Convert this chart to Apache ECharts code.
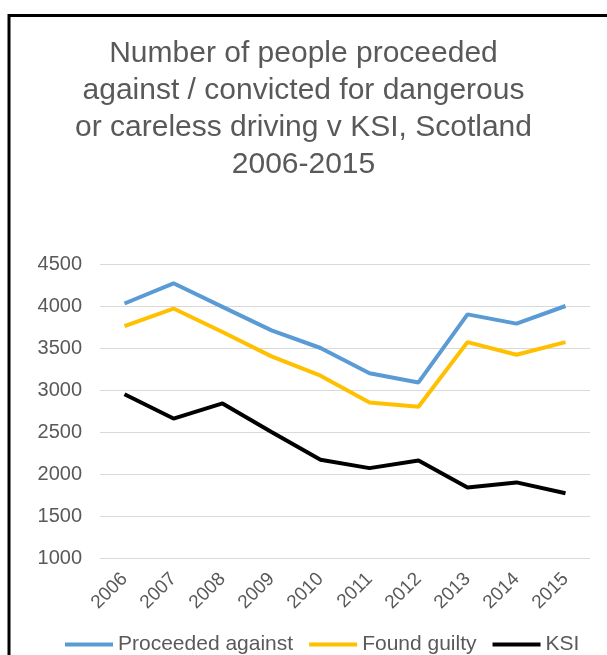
<!DOCTYPE html>
<html>
<head>
<meta charset="utf-8">
<script src="https://cdn.jsdelivr.net/npm/echarts@6/dist/echarts.min.js"></script>
<style>
html, body { margin: 0; padding: 0; background: #fff; }
#main { width: 607px; height: 655px; }
</style>
</head>
<body>
<div id="main"></div>
<script>
var years = ['2006', '2007', '2008', '2009', '2010', '2011', '2012', '2013', '2014', '2015'];
var proceeded = [4030, 4270, 3990, 3710, 3500, 3200, 3090, 3900, 3790, 4000];
var guilty = [3760, 3970, 3690, 3400, 3170, 2850, 2800, 3570, 3420, 3570];
var ksi = [2950, 2660, 2840, 2500, 2170, 2070, 2160, 1840, 1900, 1770];

var myChart = echarts.init(document.getElementById('main'));
var font = '"Liberation Sans", Arial, sans-serif';

var option = {
    animation: false,
    title: {
        text: 'Number of people proceeded\nagainst / convicted for dangerous\nor careless driving v KSI, Scotland\n2006-2015',
        left: 'center',
        top: 30,
        textStyle: {
            color: '#595959',
            fontSize: 30,
            fontWeight: 'normal',
            fontFamily: font,
            lineHeight: 37
        }
    },
    // chart border, right and bottom edges run off the picture
    graphic: [{
        type: 'rect',
        shape: { x: 9, y: 15.5, width: 700, height: 700 },
        style: { fill: 'none', stroke: '#000', lineWidth: 3 }
    }],
    legend: {
        bottom: -5,
        left: 60,
        itemWidth: 48,
        itemHeight: 4,
        itemGap: 16,
        icon: 'rect',
        textStyle: { color: '#595959', fontSize: 21, fontFamily: font }
    },
    grid: {
        left: 100,
        right: 17,
        top: 264,
        bottom: 97
    },
    xAxis: {
        type: 'category',
        data: years,
        axisLine: { show: false },
        axisTick: { show: false },
        axisLabel: {
            rotate: 45,
            color: '#595959',
            fontSize: 19,
            fontFamily: font,
            margin: 18
        }
    },
    yAxis: {
        type: 'value',
        min: 1000,
        max: 4500,
        interval: 500,
        axisLine: { show: false },
        axisTick: { show: false },
        axisLabel: {
            color: '#595959',
            fontSize: 20,
            fontFamily: font,
            margin: 18,
            formatter: function (v) { return String(v); }
        },
        splitLine: { lineStyle: { color: '#d9d9d9', width: 1 } }
    },
    series: [{
        name: 'Proceeded against',
        type: 'line',
        data: proceeded,
        symbol: 'none',
        color: '#5b9bd5',
        lineStyle: { width: 4, color: '#5b9bd5' }
    }, {
        name: 'Found guilty',
        type: 'line',
        data: guilty,
        symbol: 'none',
        color: '#ffc000',
        lineStyle: { width: 4, color: '#ffc000' }
    }, {
        name: 'KSI',
        type: 'line',
        data: ksi,
        symbol: 'none',
        color: '#000000',
        lineStyle: { width: 4, color: '#000000' }
    }]
};
myChart.setOption(option);
</script>
</body>
</html>
